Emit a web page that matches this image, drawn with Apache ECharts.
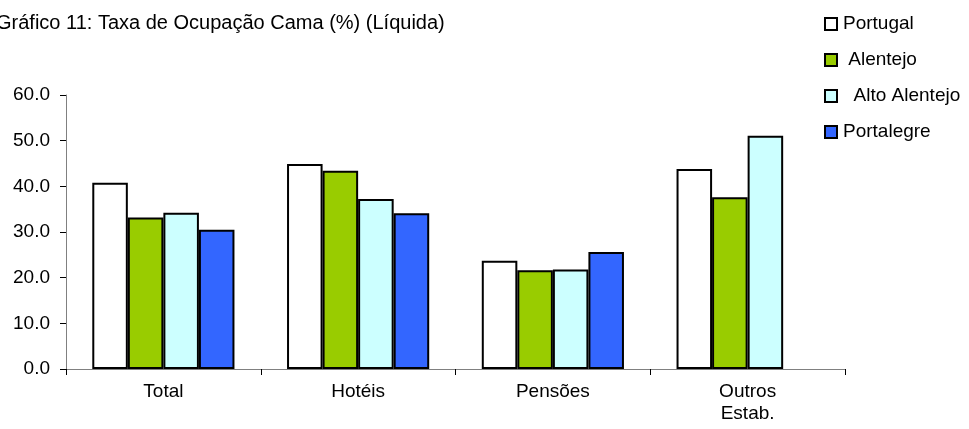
<!DOCTYPE html>
<html>
<head>
<meta charset="utf-8">
<script src="https://cdn.jsdelivr.net/npm/echarts@6/dist/echarts.min.js"></script>
<style>html,body{margin:0;padding:0;background:#fff}#c{width:969px;height:429px}</style>
</head>
<body>
<div id="c"></div>
<script>
var categories = ['Total', 'Hotéis', 'Pensões', 'Outros\nEstab.'];
var seriesNames = ['Portugal', ' Alentejo', '  Alto Alentejo', 'Portalegre'];
var portugal = [40.8, 44.9, 23.7, 43.8];
var alentejo = [33.2, 43.4, 21.6, 37.6];
var altoAlentejo = [34.2, 37.2, 21.8, 51.1];
var portalegre = [30.5, 34.1, 25.6, null];
var yTicks = [0, 10, 20, 30, 40, 50, 60];
var titleText = 'Gráfico 11: Taxa de Ocupação Cama (%) (Líquida)';

var colors = ['#ffffff', '#99cc00', '#ccffff', '#3366ff'];
var values = [portugal, alentejo, altoAlentejo, portalegre];
var font = 'Liberation Sans, Arial, sans-serif';

var chart = echarts.init(document.getElementById('c'), null, {renderer: 'canvas'});
chart.setOption({
  animation: false,
  backgroundColor: '#ffffff',
  title: {
    text: titleText,
    left: -9, top: 8,
    textStyle: {fontFamily: font, fontSize: 20, fontWeight: 'normal', color: '#000'}
  },
  legend: {
    orient: 'vertical',
    left: 819, top: 9,
    itemWidth: 12, itemHeight: 12, itemGap: 16,
    icon: 'rect',
    data: seriesNames,
    itemStyle: {borderColor: '#000', borderWidth: 2},
    textStyle: {fontFamily: font, fontSize: 19, color: '#000', lineHeight: 20, padding: [0,0,0,1]}
  },
  grid: {left: 66, right: 124, top: 95, bottom: 60, containLabel: false},
  xAxis: {
    type: 'category',
    data: categories,
    axisLine: {lineStyle: {color: '#808080', width: 1}},
    axisTick: {show: true, length: 6, lineStyle: {color: '#000'}},
    axisLabel: {fontFamily: font, fontSize: 19, color: '#000', margin: 12, lineHeight: 22}
  },
  yAxis: {
    type: 'value',
    min: yTicks[0], max: yTicks[yTicks.length - 1], interval: yTicks[1] - yTicks[0],
    axisLine: {show: true, lineStyle: {color: '#808080', width: 1}},
    axisTick: {show: true, length: 6, lineStyle: {color: '#000'}},
    splitLine: {show: false},
    axisLabel: {fontFamily: font, fontSize: 19, color: '#000', margin: 16,
      formatter: function (v) { return v.toFixed(1); }}
  },
  series: seriesNames.map(function (n, i) {
    return {
      name: n, type: 'bar', data: values[i],
      barGap: '0%', barCategoryGap: '27%',
      itemStyle: {color: colors[i], borderColor: '#000', borderWidth: 2}
    };
  })
});
</script>
</body>
</html>
